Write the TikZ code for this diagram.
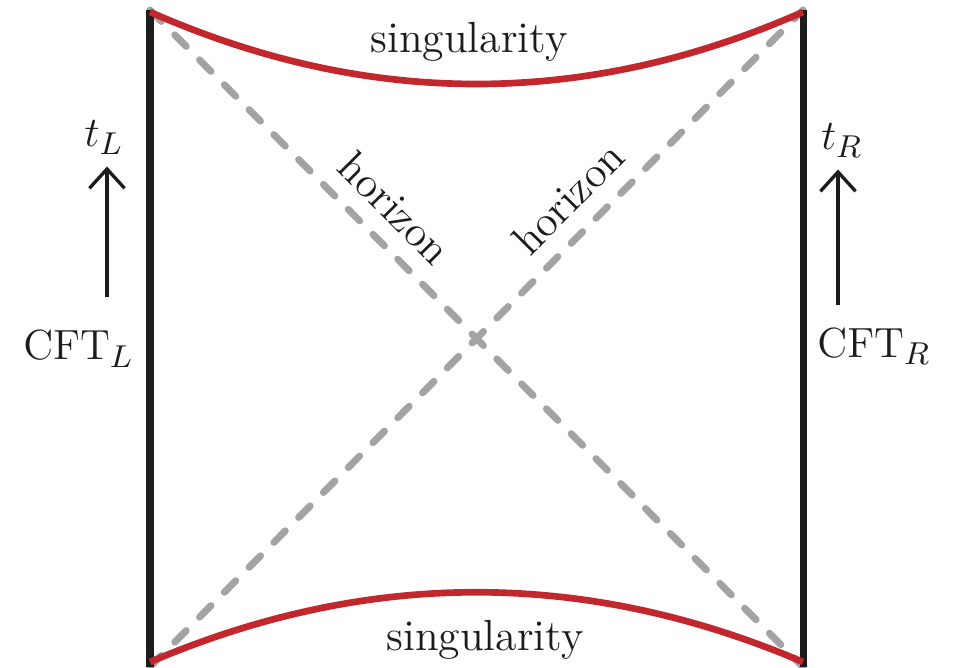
\documentclass[tikz,border=0pt]{standalone}
\usepackage{amsmath}
\usepackage{xcolor}
\usepackage{tikz}
\usetikzlibrary{calc, positioning, arrows.meta}
\definecolor{singred}{HTML}{C1272D}
\definecolor{horizongray}{HTML}{A3A3A3}
\definecolor{wallblack}{HTML}{1C1C1C}

\begin{document}
\begin{tikzpicture}[
    every node/.style={font=\fontsize{12.4}{15}\selectfont, text=wallblack},
    wall/.style={wallblack, line width=2pt},
    singular/.style={singred, line width=1.9pt},
    horizonline/.style={horizongray, line width=2pt, line cap=round,
                        dash pattern=on 4.6pt off 5.4pt},
    timearrow/.style={wallblack, line width=0.95pt,
                      -{Straight Barb[length=5.5pt, width=10pt, line width=0.95pt]}},
]
    \useasboundingbox (0,0) rectangle (9.54,6.67);

    % Corners
    \coordinate (TL) at (1.50, 6.57);
    \coordinate (TR) at (8.03, 6.57);
    \coordinate (BL) at (1.50, 0.00);
    \coordinate (BR) at (8.03, 0.00);

    % Horizons
    \draw[horizonline] (TL) -- node[pos=0.338, sloped, above=1pt] (hL) {horizon} (BR);
    \draw[horizonline] (BL) -- node[pos=0.677, sloped, above=1pt] (hR) {horizon} (TR);

    % Boundaries
    \draw[wall] (BL) -- (TL);
    \draw[wall] (BR) -- (TR);

    % Singularities
    \draw[singular] ($(TL)+(0,-0.02)$) .. controls (3.68, 5.59) and (5.85, 5.59) .. ($(TR)+(0,-0.02)$);
    \draw[singular] ($(BL)+(0,0.05)$) .. controls (3.68, 0.98) and (5.85, 0.98) .. ($(BR)+(0,0.05)$);
    \node[anchor=base] (sTop) at (4.69, 6.14) {singularity};
    \node[anchor=base] (sBot) at (4.85, 0.17) {singularity};

    % Boundary theories
    \node[anchor=base] (tL)   at (1.04, 5.20) {$t_L$};
    \node[anchor=base] (CFTL) at (0.785, 3.07) {$\mathrm{CFT}_L$};
    \node[anchor=base] (tR)   at (8.42, 5.17) {$t_R$};
    \node[anchor=base] (CFTR) at (8.74, 3.10) {$\mathrm{CFT}_R$};

    % Time arrows
    \coordinate (aL) at (1.07, 3.70);
    \coordinate (aR) at (8.38, 3.62);
    \draw[timearrow] (aL) -- (aL |- tL.south);
    \draw[timearrow] (aR) -- (aR |- tR.south);
\end{tikzpicture}
\end{document}
